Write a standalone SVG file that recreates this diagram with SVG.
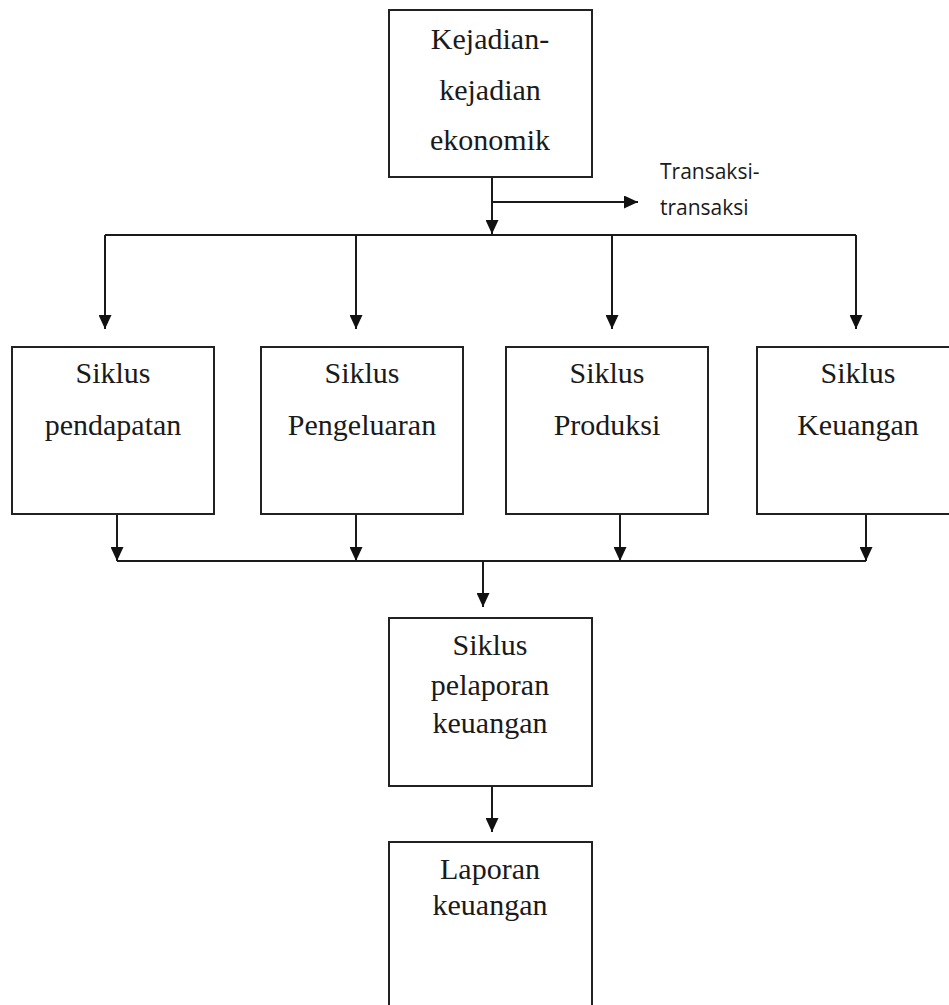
<svg xmlns="http://www.w3.org/2000/svg" width="949" height="1005" viewBox="0 0 949 1005">
<style>
.box{fill:#fff;stroke:#222;stroke-width:2}
.t{font-family:"Liberation Serif","Times New Roman",serif;font-size:30px;fill:#1a1a1a;text-anchor:middle}
.s{font-family:"Open Sans","Liberation Sans",sans-serif;font-size:21px;fill:#1a1a1a}
.c{stroke:#1a1a1a;stroke-width:2;fill:none}
</style>
<defs>
<marker id="ah" markerWidth="14" markerHeight="13" refX="14" refY="6.5" orient="auto" markerUnits="userSpaceOnUse">
<path d="M0,0 L14,6.5 L0,13 Z" fill="#111"/>
</marker>
</defs>
<rect width="949" height="1005" fill="#fff"/>
<g id="connectors">
<line class="c" x1="492" y1="177" x2="492" y2="234" marker-end="url(#ah)"/>
<line class="c" x1="492" y1="202" x2="638" y2="202" marker-end="url(#ah)"/>
<line class="c" x1="105" y1="235" x2="856" y2="235"/>
<line class="c" x1="105" y1="235" x2="105" y2="329" marker-end="url(#ah)"/>
<line class="c" x1="356" y1="235" x2="356" y2="329" marker-end="url(#ah)"/>
<line class="c" x1="612" y1="235" x2="612" y2="329" marker-end="url(#ah)"/>
<line class="c" x1="856" y1="235" x2="856" y2="329" marker-end="url(#ah)"/>
<line class="c" x1="117" y1="514" x2="117" y2="561" marker-end="url(#ah)"/>
<line class="c" x1="356" y1="514" x2="356" y2="561" marker-end="url(#ah)"/>
<line class="c" x1="620" y1="514" x2="620" y2="561" marker-end="url(#ah)"/>
<line class="c" x1="866" y1="514" x2="866" y2="561" marker-end="url(#ah)"/>
<line class="c" x1="117" y1="561" x2="866" y2="561"/>
<line class="c" x1="483" y1="561" x2="483" y2="607" marker-end="url(#ah)"/>
<line class="c" x1="492" y1="786" x2="492" y2="832" marker-end="url(#ah)"/>
</g>
<g id="kejadian">
<rect class="box" x="389" y="10" width="203" height="167"/>
<text class="t" x="490" y="49">Kejadian-</text>
<text class="t" x="490" y="100">kejadian</text>
<text class="t" x="490" y="150">ekonomik</text>
</g>
<g id="transaksi-label">
<text class="s" x="660" y="179">Transaksi-</text>
<text class="s" x="660" y="215">transaksi</text>
</g>
<g id="pendapatan">
<rect class="box" x="12" y="347" width="202" height="167"/>
<text class="t" x="113" y="383">Siklus</text>
<text class="t" x="113" y="435">pendapatan</text>
</g>
<g id="pengeluaran">
<rect class="box" x="261" y="347" width="202" height="167"/>
<text class="t" x="362" y="383">Siklus</text>
<text class="t" x="362" y="435">Pengeluaran</text>
</g>
<g id="produksi">
<rect class="box" x="506" y="347" width="202" height="167"/>
<text class="t" x="607" y="383">Siklus</text>
<text class="t" x="607" y="435">Produksi</text>
</g>
<g id="keuangan">
<rect class="box" x="757" y="347" width="202" height="167"/>
<text class="t" x="858" y="383">Siklus</text>
<text class="t" x="858" y="435">Keuangan</text>
</g>
<g id="pelaporan">
<rect class="box" x="389" y="618" width="203" height="168"/>
<text class="t" x="490" y="655">Siklus</text>
<text class="t" x="490" y="695">pelaporan</text>
<text class="t" x="490" y="733">keuangan</text>
</g>
<g id="laporan">
<rect class="box" x="389" y="842" width="203" height="180"/>
<text class="t" x="490" y="879">Laporan</text>
<text class="t" x="490" y="915">keuangan</text>
</g>
</svg>
